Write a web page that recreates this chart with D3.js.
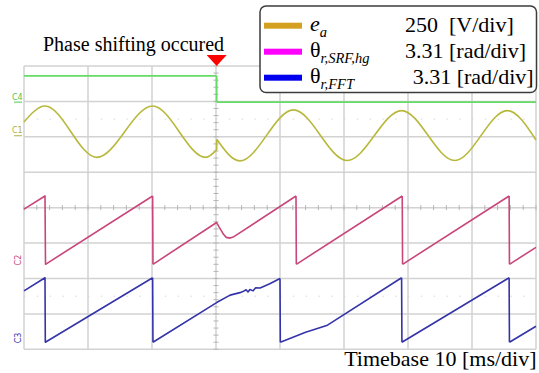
<!DOCTYPE html>
<html>
<head>
<meta charset="utf-8">
<script src="https://cdn.jsdelivr.net/npm/d3@7"></script>
<style>
	body { margin: 0; background: #fff; }
	text { font-family: 'Liberation Serif', 'Times New Roman', serif; }
</style>
</head>
<body>
<svg id="svg_elem"></svg>
<script>
//define constants
const svgWidth = 539;
const svgHeight = 373;
const plotLeft = 24;
const plotRight = 536;
const plotTop = 66;
const plotBottom = 349.3;

//trace data, time in ms and level in divisions
const eaTime = [0, 3.28, 11.36, 20.1, 28.4, 30.1, 30.12, 33.7, 42.1, 50.5, 59.0, 67.3, 75.5, 80];
const eaLevel = [2.42, 2.87, 1.42, 2.87, 1.42, 1.63, 1.93, 1.32, 2.76, 1.33, 2.74, 1.33, 2.74, 1.91];

const stepTime = [0, 30.1, 30.1, 80];
const stepLevel = [3.72, 3.72, 2.98, 2.98];

const srfTime = [0, 3.28, 3.36, 20.1, 20.15, 30.1, 30.5, 31.2, 31.6, 32.2, 32.8, 42.5, 42.55, 59.1, 59.15, 75.8, 75.85, 80];
const srfLevel = [-0.04, 0.33, -1.60, 0.33, -1.60, -0.42, -0.55, -0.76, -0.84, -0.86, -0.82, 0.33, -1.60, 0.33, -1.60, 0.33, -1.60, -1.12];

const fftTime = [0, 3.28, 3.33, 20.1, 20.15, 30.1, 32.2, 33.75, 34.2, 34.7, 35.0, 35.3, 35.8, 36.2, 36.9, 38.4, 40.0, 40.05, 44.0, 47.3, 59.0, 59.05, 75.8, 75.85, 80];
const fftLevel = [-2.35, -1.98, -3.80, -1.98, -3.80, -2.68, -2.47, -2.40, -2.37, -2.32, -2.38, -2.31, -2.35, -2.26, -2.27, -2.15, -2.00, -3.80, -3.52, -3.33, -1.98, -3.80, -1.98, -3.80, -3.35];

//legend rows
const legendNames = ['e', '\u03b8', '\u03b8'];
const legendSubs = ['a', 'r,SRF,hg', 'r,FFT'];
const legendScales = ['250  [V/div]', '3.31 [rad/div]', '3.31 [rad/div]'];
const legendColors = ['#d4a020', '#ff00ff', '#0000ee'];

//grid ticks
const timeTicks = d3.range(0, 81, 10);
const divTicks = d3.range(-4, 5, 1);

//configure svg window
var svg = d3.select('#svg_elem')
	.attr('width', svgWidth)
	.attr('height', svgHeight);

//scales
var xScale = d3.scaleLinear()
	.domain([0, 80])
	.range([plotLeft, plotRight]);
var yScale = d3.scaleLinear()
	.domain([-4, 4])
	.range([plotBottom, plotTop]);

//grid lines
svg.append('g').selectAll('line')
	.data(timeTicks)
	.enter()
	.append('line')
		.attr('x1', d => xScale(d))
		.attr('x2', d => xScale(d))
		.attr('y1', plotTop)
		.attr('y2', plotBottom)
		.attr('stroke', '#d2d2d2')
		.attr('stroke-width', 1.5);
svg.append('g').selectAll('line')
	.data(divTicks)
	.enter()
	.append('line')
		.attr('x1', plotLeft)
		.attr('x2', plotRight)
		.attr('y1', d => yScale(d))
		.attr('y2', d => yScale(d))
		.attr('stroke', '#d2d2d2')
		.attr('stroke-width', 1.5);

//minor ticks on centre lines
svg.append('g').selectAll('line')
	.data(d3.range(-4, 4.01, 0.2))
	.enter()
	.append('line')
		.attr('x1', xScale(30) - 2.5)
		.attr('x2', xScale(30) + 2.5)
		.attr('y1', d => yScale(d))
		.attr('y2', d => yScale(d))
		.attr('stroke', '#b4b4b4');
svg.append('g').selectAll('line')
	.data(d3.range(0, 80.01, 2))
	.enter()
	.append('line')
		.attr('x1', d => xScale(d))
		.attr('x2', d => xScale(d))
		.attr('y1', yScale(0) - 2.5)
		.attr('y2', yScale(0) + 2.5)
		.attr('stroke', '#b4b4b4');

//faint dotted rows
svg.append('g').selectAll('line')
	.data([2.5, -2.5])
	.enter()
	.append('line')
		.attr('x1', plotLeft)
		.attr('x2', plotRight)
		.attr('y1', d => yScale(d))
		.attr('y2', d => yScale(d))
		.attr('stroke', '#d8d8d8')
		.attr('stroke-dasharray', '1.5,11.3');

//trace drawing, split where the time jumps so curves don't overshoot
function drawTrace(times, levels, colour, curve, width){
	var pts = times.map((t, i) => [t, levels[i]]);
	var pieces = [[pts[0]]];
	for(var i = 1; i < pts.length; i++){
		if(pts[i][0] - pts[i-1][0] < 0.05){
			//vertical jump, start a new piece
			pieces.push([pts[i-1], pts[i]]);
			pieces.push([pts[i]]);
		}
		else{
			pieces[pieces.length - 1].push(pts[i]);
		}
	}
	var line = d3.line()
		.x(d => xScale(d[0]))
		.y(d => yScale(d[1]))
		.curve(curve);
	var jd = pieces.filter(p => p.length > 1).map(p => line(p)).join('');
	svg.append('path')
		.attr('d', jd)
		.attr('fill', 'none')
		.attr('stroke', colour)
		.attr('stroke-width', width)
		.attr('stroke-linejoin', 'round');
}

drawTrace(stepTime, stepLevel, '#66dc66', d3.curveLinear, 1.8);
drawTrace(eaTime, eaLevel, '#b8b83c', d3.curveMonotoneX, 1.6);
drawTrace(srfTime, srfLevel, '#c8467a', d3.curveLinear, 1.6);
drawTrace(fftTime, fftLevel, '#3434a8', d3.curveLinear, 1.6);

//channel markers
var chans = [
	{name: 'C4', level: 2.98, colour: '#50c850', rot: false},
	{name: 'C1', level: 2.03, colour: '#b0b040', rot: false},
	{name: 'C2', level: -1.48, colour: '#c8467a', rot: true},
	{name: 'C3', level: -3.68, colour: '#3434a8', rot: true}
];
chans.forEach(c => {
	if(!c.rot){
		svg.append('line')
			.attr('x1', 14).attr('x2', 22)
			.attr('y1', yScale(c.level)).attr('y2', yScale(c.level))
			.attr('stroke', c.colour);
		svg.append('text')
			.attr('x', 12)
			.attr('y', yScale(c.level) - 2.5)
			.attr('font-size', 8)
			.attr('fill', c.colour)
			.style('font-family', 'DejaVu Sans')
			.text(c.name);
	}
	else{
		svg.append('text')
			.attr('transform', `translate(21, ${yScale(c.level)}) rotate(-90)`)
			.attr('text-anchor', 'middle')
			.attr('font-size', 8)
			.attr('fill', c.colour)
			.style('font-family', 'DejaVu Sans')
			.text(c.name);
	}
});

//trigger marker and note
svg.append('path')
	.attr('d', `M${xScale(30.1) - 10},55 L${xScale(30.1) + 10},55 L${xScale(30.1)},66 Z`)
	.attr('fill', '#ff0000');
svg.append('text')
	.attr('x', 43)
	.attr('y', 50.5)
	.attr('font-size', 20)
	.text('Phase shifting occured');

//legend box
var legend = svg.append('g');
legend.append('rect')
	.attr('x', 260)
	.attr('y', 6)
	.attr('width', 276.5)
	.attr('height', 86.5)
	.attr('rx', 6)
	.attr('fill', '#fff')
	.attr('stroke', '#3c3c3c')
	.attr('stroke-width', 1.5);
var rows = legend.selectAll('.row')
	.data(legendNames)
	.enter()
	.append('g')
		.classed('row', true)
		.attr('transform', (d, i) => `translate(0, ${25.7 + i * 26})`);
rows.append('rect')
	.attr('x', 264)
	.attr('y', -3)
	.attr('width', 38)
	.attr('height', 6)
	.attr('fill', (d, i) => legendColors[i]);
var names = rows.append('text')
	.attr('x', 310)
	.attr('y', (d, i) => i == 0 ? 5.5 : 5)
	.attr('font-size', 22);
names.append('tspan')
	.style('font-style', (d, i) => i == 0 ? 'italic' : 'normal')
	.text(d => d);
names.append('tspan')
	.attr('dy', 6)
	.attr('font-size', 14.5)
	.style('font-style', 'italic')
	.text((d, i) => legendSubs[i]);
rows.append('text')
	.attr('x', (d, i) => i == 2 ? 412.7 : 405)
	.attr('y', 6)
	.attr('font-size', 22)
	.style('white-space', 'pre')
	.text((d, i) => legendScales[i]);

//timebase note
svg.append('text')
	.attr('x', 536.5)
	.attr('y', 366)
	.attr('text-anchor', 'end')
	.attr('font-size', 22)
	.text('Timebase 10 [ms/div]');
</script>
</body>
</html>
